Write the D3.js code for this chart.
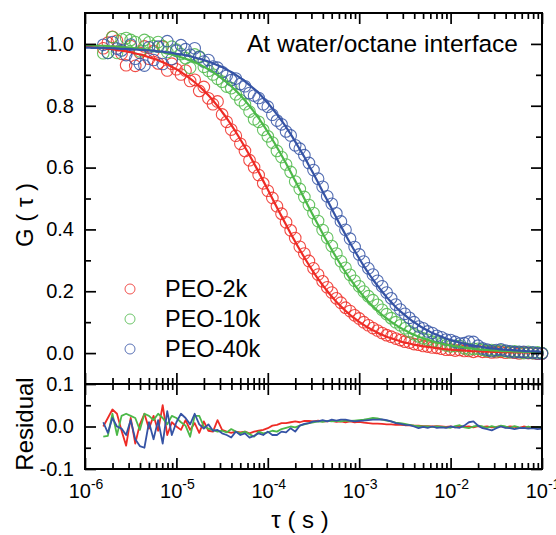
<!DOCTYPE html>
<html><head><meta charset="utf-8">
<script src="https://cdn.jsdelivr.net/npm/d3@7"></script>
<style>
body{margin:0;background:#fff}
text{font-family:"Liberation Sans",Arial,Helvetica,sans-serif;fill:#000}
</style>
</head><body>
<svg id="c" width="556" height="535"></svg>
<script>
// ---------- DATA ----------
const logTau = [
-6.00,-5.95,-5.90,-5.85,-5.80,-5.75,-5.70,-5.65,-5.60,-5.55,
-5.50,-5.45,-5.40,-5.35,-5.30,-5.25,-5.20,-5.15,-5.10,-5.05,
-5.00,-4.95,-4.90,-4.85,-4.80,-4.75,-4.70,-4.65,-4.60,-4.55,
-4.50,-4.45,-4.40,-4.35,-4.30,-4.25,-4.20,-4.15,-4.10,-4.05,
-4.00,-3.95,-3.90,-3.85,-3.80,-3.75,-3.70,-3.65,-3.60,-3.55,
-3.50,-3.45,-3.40,-3.35,-3.30,-3.25,-3.20,-3.15,-3.10,-3.05,
-3.00,-2.95,-2.90,-2.85,-2.80,-2.75,-2.70,-2.65,-2.60,-2.55,
-2.50,-2.45,-2.40,-2.35,-2.30,-2.25,-2.20,-2.15,-2.10,-2.05,
-2.00,-1.95,-1.90,-1.85,-1.80,-1.75,-1.70,-1.65,-1.60,-1.55,
-1.50,-1.45,-1.40,-1.35,-1.30,-1.25,-1.20,-1.15,-1.10,-1.05,
-1.00];
const dataStart = 4; // measured points start at log10(tau) = -5.80

const seriesNames = ["PEO-2k", "PEO-10k", "PEO-40k"];

// fitted curves, values at logTau
const fitRed = [
.991,.990,.989,.988,.986,.984,.983,.980,.978,.976,
.973,.969,.966,.962,.957,.952,.947,.941,.934,.926,
.918,.909,.899,.888,.876,.863,.849,.834,.817,.799,
.780,.760,.738,.715,.691,.666,.640,.613,.586,.557,
.529,.500,.471,.443,.415,.387,.360,.334,.309,.285,
.262,.240,.220,.201,.183,.166,.151,.137,.124,.112,
.101,.091,.082,.074,.066,.059,.053,.048,.043,.038,
.034,.031,.027,.025,.022,.020,.018,.016,.014,.012,
.011,.010,.009,.008,.007,.006,.006,.005,.005,.004,
.004,.003,.003,.003,.002,.002,.002,.002,.001,.001,
.001];
const fitGreen = [
.996,.996,.995,.994,.994,.993,.992,.991,.990,.989,
.988,.986,.984,.983,.980,.978,.976,.973,.969,.966,
.962,.957,.952,.947,.941,.934,.926,.918,.909,.899,
.888,.876,.863,.849,.834,.817,.799,.780,.760,.738,
.715,.691,.666,.640,.613,.586,.557,.529,.500,.471,
.443,.415,.387,.360,.334,.309,.285,.262,.240,.220,
.201,.183,.166,.151,.137,.124,.112,.101,.091,.082,
.074,.066,.059,.053,.048,.043,.038,.034,.031,.027,
.025,.022,.020,.018,.016,.014,.012,.011,.010,.009,
.008,.007,.006,.006,.005,.005,.004,.004,.003,.003,
.003];
const fitBlue = [
.988,.988,.987,.987,.987,.986,.986,.985,.984,.984,
.983,.982,.981,.980,.979,.978,.976,.975,.973,.971,
.968,.966,.963,.960,.956,.952,.948,.943,.937,.931,
.925,.917,.909,.900,.890,.879,.867,.855,.841,.825,
.809,.791,.772,.752,.731,.708,.684,.659,.634,.607,
.580,.552,.523,.495,.467,.438,.410,.383,.356,.331,
.306,.282,.259,.238,.218,.199,.181,.165,.149,.135,
.123,.111,.100,.090,.081,.073,.065,.059,.053,.047,
.042,.038,.034,.030,.027,.024,.022,.019,.017,.015,
.014,.012,.011,.010,.009,.008,.007,.006,.006,.005,
.004];

// residuals (data - fit), values at logTau from index dataStart
const resRed = [
0.000,0.020,0.040,0.030,-0.010,-0.045,0.020,-0.040,0.005,0.030,
-0.005,0.025,-0.010,0.050,-0.020,0.010,0.000,-0.008,0.015,-0.008,
0.008,-0.015,0.012,-0.010,-0.012,0.015,-0.008,-0.012,-0.015,-0.012,
-0.014,-0.012,-0.016,-0.012,-0.010,-0.008,-0.004,0.002,0.004,0.008,
0.008,0.010,0.012,0.010,0.013,0.013,0.012,0.014,0.012,0.012,
0.013,0.011,0.012,0.010,0.012,0.010,0.011,0.009,0.008,0.007,
0.007,0.006,0.005,0.005,0.004,0.004,0.003,0.003,0.002,0.002,
0.001,0.001,0.000,0.001,0.000,-0.001,0.000,-0.002,0.001,-0.001,
0.000,-0.002,0.001,-0.001,0.000,-0.002,-0.001,0.001,-0.002,0.000,
-0.001,-0.003,0.000,-0.002,-0.001,-0.003,-0.002];
const resGreen = [
-0.024,-0.022,0.030,-0.020,0.025,0.030,0.025,0.020,-0.008,0.030,
0.025,0.015,0.030,0.020,0.005,0.025,0.020,0.010,0.002,-0.024,
0.025,0.025,0.000,-0.005,-0.008,-0.012,-0.010,-0.014,-0.006,-0.012,
-0.016,-0.012,-0.018,-0.024,-0.012,-0.016,-0.014,-0.010,-0.012,-0.006,
-0.003,0.000,-0.002,0.002,0.005,0.008,0.010,0.012,0.011,0.013,
0.012,0.013,0.012,0.014,0.013,0.014,0.015,0.016,0.018,0.020,
0.019,0.016,0.014,0.012,0.009,0.008,0.006,0.004,0.002,0.001,
0.000,0.000,-0.001,0.000,-0.001,-0.002,-0.003,0.001,0.003,-0.002,
-0.004,0.000,0.002,0.000,-0.003,0.001,-0.002,0.002,0.000,-0.003,
0.001,-0.002,-0.004,0.000,-0.003,-0.001,-0.003];
const resBlue = [
0.010,-0.015,0.020,0.000,-0.005,-0.020,0.015,-0.030,-0.046,-0.050,
0.010,-0.030,0.015,-0.040,0.036,-0.020,0.010,0.030,0.020,0.005,
0.030,0.005,-0.005,0.005,-0.010,-0.008,-0.016,-0.020,-0.026,-0.012,
-0.020,-0.016,-0.026,-0.022,-0.016,-0.020,-0.012,-0.020,-0.020,-0.012,
-0.014,-0.004,-0.012,0.002,0.006,0.008,0.012,0.012,0.015,0.012,
0.016,0.014,0.016,0.016,0.014,0.012,0.013,0.014,0.015,0.016,
0.016,0.017,0.015,0.012,0.008,0.006,0.004,0.003,0.000,-0.004,
-0.001,-0.003,0.000,-0.003,-0.002,-0.003,0.000,-0.002,-0.003,0.002,
0.010,0.012,0.002,-0.004,-0.006,-0.009,-0.004,0.000,-0.003,-0.004,
-0.006,-0.004,-0.003,-0.005,-0.004,-0.006,-0.005];

const xMajorTicks = [1e-6, 1e-5, 1e-4, 1e-3, 1e-2, 1e-1];
const xTickExponents = ["-6", "-5", "-4", "-3", "-2", "-1"];
const yMainTicks = [0.0, 0.2, 0.4, 0.6, 0.8, 1.0];
const yMainMinor = [0.1, 0.3, 0.5, 0.7, 0.9];
const yResTicks = [-0.1, 0.0, 0.1];
const yResMinor = [-0.05, 0.05];

// ---------- LAYOUT ----------
const colors = ["#ee2b25", "#4cb848", "#3553a5"];
const L = 85, R = 542, T = 13, M = 384, B = 469;
const svg = d3.select("#c");

const x = d3.scaleLog().domain([1e-6, 1e-1]).range([L, R]);
const y = d3.scaleLinear().domain([-0.1, 1.1]).range([M, T]);
const yr = d3.scaleLinear().domain([-0.1, 0.1]).range([B, M]);

const xMinorTicks = [];
xMajorTicks.slice(0, -1).forEach(d => { for (let k = 2; k <= 9; k++) xMinorTicks.push(k * d); });

const fits = [fitRed, fitGreen, fitBlue];
const resids = [resRed, resGreen, resBlue];

const series = fits.map((f, s) => {
  const fitPts = logTau.map((l, i) => ({ t: Math.pow(10, l), v: f[i] }));
  const res = resids[s];
  const dataPts = res.map((r, j) => {
    const i = j + dataStart;
    return { t: Math.pow(10, logTau[i]), v: f[i] + r, r: r };
  });
  return { name: seriesNames[s], color: colors[s], fitPts, dataPts };
});

// ---------- MARKS ----------
const gData = svg.append("g");
series.forEach(s => {
  gData.append("g").selectAll("circle").data(s.dataPts).enter().append("circle")
    .attr("cx", d => x(d.t)).attr("cy", d => y(d.v)).attr("r", 5.8)
    .attr("fill", "none").attr("stroke", s.color).attr("stroke-width", 1.1)
    .attr("stroke-opacity", 0.85);
});
const line = d3.line().x(d => x(d.t)).y(d => y(d.v)).curve(d3.curveMonotoneX);
series.forEach(s => {
  gData.append("path").datum(s.fitPts).attr("d", line)
    .attr("fill", "none").attr("stroke", s.color).attr("stroke-width", 2.2);
});

const rline = d3.line().x(d => x(d.t)).y(d => yr(d.r));
series.forEach(s => {
  svg.append("path").datum(s.dataPts).attr("d", rline)
    .attr("fill", "none").attr("stroke", s.color).attr("stroke-width", 1.8)
    .attr("stroke-linejoin", "round");
});

// ---------- AXES ----------
function styleAxis(g) {
  g.select(".domain").remove();
  g.selectAll(".tick line").attr("stroke", "#000").attr("stroke-width", 1.7);
  g.selectAll(".tick text").style("font-size", "20px").attr("fill", "#000");
}
const fmt1 = d => d.toFixed(1);
function addX(axisFn, ypos, vals, size) {
  svg.append("g").attr("transform", `translate(0,${ypos})`)
    .call(axisFn(x).tickValues(vals).tickSize(size).tickFormat("")).call(styleAxis);
}
// main panel top and bottom, residual top and bottom
addX(d3.axisTop, T, xMajorTicks, -11); addX(d3.axisTop, T, xMinorTicks, -6);
addX(d3.axisBottom, M, xMajorTicks, -11); addX(d3.axisBottom, M, xMinorTicks, -6);
addX(d3.axisTop, M, xMajorTicks, -11); addX(d3.axisTop, M, xMinorTicks, -6);
addX(d3.axisBottom, B, xMajorTicks, -11); addX(d3.axisBottom, B, xMinorTicks, -6);

function addY(axisFn, xpos, scale, vals, size, labels) {
  const a = axisFn(scale).tickValues(vals).tickSize(size).tickPadding(11)
    .tickFormat(labels ? fmt1 : "");
  svg.append("g").attr("transform", `translate(${xpos},0)`).call(a).call(styleAxis);
}
addY(d3.axisLeft, L, y, yMainTicks, -11, true);
addY(d3.axisLeft, L, y, yMainMinor, -6, false);
addY(d3.axisRight, R, y, yMainTicks, -11, false);
addY(d3.axisRight, R, y, yMainMinor, -6, false);
addY(d3.axisLeft, L, yr, yResTicks, -11, true);
addY(d3.axisLeft, L, yr, yResMinor, -6, false);
addY(d3.axisRight, R, yr, yResTicks, -11, false);
addY(d3.axisRight, R, yr, yResMinor, -6, false);

// x tick labels 10^n
const xl = svg.append("g");
xMajorTicks.forEach((v, i) => {
  const t = xl.append("text").attr("x", x(v) + 1).attr("y", 498)
    .attr("text-anchor", "middle").style("font-size", "20px");
  t.append("tspan").text("10");
  t.append("tspan").attr("dy", -9).style("font-size", "14px").text(xTickExponents[i]);
});

// frames
svg.append("rect").attr("x", L).attr("y", T).attr("width", R - L).attr("height", M - T)
  .attr("fill", "none").attr("stroke", "#000").attr("stroke-width", 2);
svg.append("rect").attr("x", L).attr("y", M).attr("width", R - L).attr("height", B - M)
  .attr("fill", "none").attr("stroke", "#000").attr("stroke-width", 2);

// titles
svg.append("text").attr("transform", "translate(33,215) rotate(-90)")
  .attr("text-anchor", "middle").style("font-size", "24px").text("G ( τ )");
svg.append("text").attr("transform", "translate(33,424) rotate(-90)")
  .attr("text-anchor", "middle").style("font-size", "24px").text("Residual");
svg.append("text").attr("x", 300).attr("y", 528)
  .attr("text-anchor", "middle").style("font-size", "24px").text("τ ( s )");
svg.append("text").attr("x", 518).attr("y", 52)
  .attr("text-anchor", "end").style("font-size", "24.5px").text("At water/octane interface");

// legend
const leg = svg.append("g");
series.forEach((s, i) => {
  const yy = 289 + i * 30;
  leg.append("circle").attr("cx", 130).attr("cy", yy).attr("r", 5)
    .attr("fill", "none").attr("stroke", s.color).attr("stroke-width", 1).attr("stroke-opacity", 0.8);
  leg.append("text").attr("x", 165).attr("y", yy + 8).style("font-size", "23.5px").text(s.name);
});
</script>
</body></html>
